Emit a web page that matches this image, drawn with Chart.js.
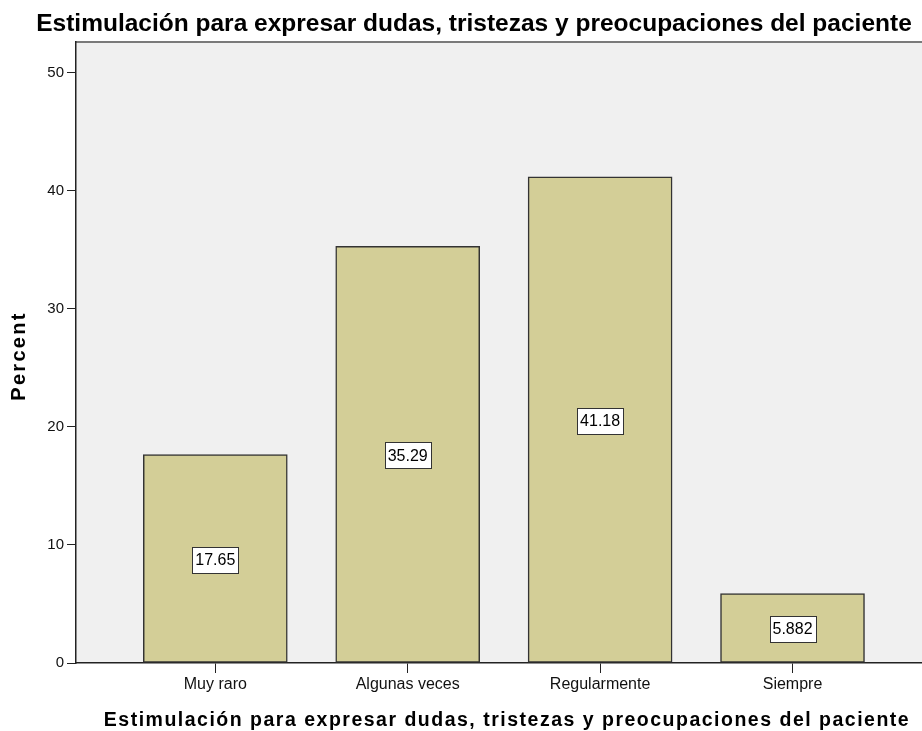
<!DOCTYPE html>
<html>
<head>
<meta charset="utf-8">
<script src="https://cdn.jsdelivr.net/npm/chart.js@4"></script>
<style>
  html, body { margin: 0; padding: 0; background: #fff; }
  #wrap { width: 922px; height: 731px; position: relative; }
</style>
</head>
<body>
<div id="wrap"><canvas id="chart"></canvas></div>
<script>
// --- data ---
const categories = ['Muy raro', 'Algunas veces', 'Regularmente', 'Siempre'];
const percents = [17.65, 35.29, 41.18, 5.882];
const yTicks = [0, 10, 20, 30, 40, 50];
const chartTitle = 'Estimulación para expresar dudas, tristezas y preocupaciones del paciente';
const xTitle = 'Estimulación para expresar dudas, tristezas y preocupaciones del paciente';
const yTitle = 'Percent';

const FONT = '"Liberation Sans", Arial, sans-serif';

// gray plot background + top frame line (SPSS look)
const plotBg = {
    id: 'plotBg',
    beforeDraw(chart) {
        const { ctx, chartArea: a } = chart;
        ctx.save();
        ctx.fillStyle = '#f0f0f0';
        ctx.fillRect(a.left, a.top, a.right - a.left, a.bottom - a.top);
        ctx.strokeStyle = '#7a7a7a';
        ctx.lineWidth = 2;
        ctx.beginPath();
        ctx.moveTo(a.left, a.top);
        ctx.lineTo(a.right, a.top);
        ctx.stroke();
        ctx.restore();
    }
};

// boxed value labels in the middle of each bar
const barLabels = {
    id: 'barLabels',
    afterDatasetsDraw(chart) {
        const { ctx } = chart;
        const meta = chart.getDatasetMeta(0);
        ctx.save();
        ctx.font = '16px ' + FONT;
        ctx.textAlign = 'center';
        ctx.textBaseline = 'middle';
        meta.data.forEach((bar, i) => {
            const txt = String(percents[i]);
            const cy = (bar.y + bar.base) / 2 + 1;
            const w = Math.round(ctx.measureText(txt).width) + 6;
            const h = 26;
            const x0 = Math.round(bar.x - w / 2) + 0.5;
            const y0 = Math.round(cy - h / 2) + 0.5;
            ctx.fillStyle = '#fff';
            ctx.fillRect(x0, y0, w, h);
            ctx.strokeStyle = '#333';
            ctx.lineWidth = 1;
            ctx.strokeRect(x0, y0, w, h);
            ctx.fillStyle = '#000';
            ctx.fillText(txt, bar.x, cy + 1);
        });
        ctx.restore();
    }
};

// titles
const titles = {
    id: 'titles',
    afterDraw(chart) {
        const { ctx } = chart;
        ctx.save();
        ctx.fillStyle = '#000';
        ctx.textBaseline = 'alphabetic';
        ctx.textAlign = 'center';

        ctx.font = 'bold 24.5px ' + FONT;
        ctx.letterSpacing = '0px';
        ctx.fillText(chartTitle, 474, 31);

        ctx.font = 'bold 19.5px ' + FONT;
        ctx.letterSpacing = '1.5px';
        ctx.fillText(xTitle, 507, 726);

        ctx.translate(25, 356);
        ctx.rotate(-Math.PI / 2);
        ctx.font = 'bold 20px ' + FONT;
        ctx.letterSpacing = '2.3px';
        ctx.fillText(yTitle, 0, 0);
        ctx.restore();
    }
};

new Chart(document.getElementById('chart'), {
    type: 'bar',
    data: {
        datasets: [{
            data: percents.map((v, i) => ({ x: i, y: v })),
            backgroundColor: '#d3ce97',
            borderColor: '#333',
            borderWidth: 1.5,
            borderSkipped: false,
            barThickness: 144
        }]
    },
    options: {
        responsive: true,
        maintainAspectRatio: false,
        animation: false,
        layout: { padding: { top: 42, left: 0, right: 0, bottom: 0 } },
        plugins: {
            legend: { display: false },
            tooltip: { enabled: false },
            title: { display: false }
        },
        scales: {
            x: {
                type: 'linear',
                offset: false,
                min: -0.724,
                max: 3.673,
                afterBuildTicks: (s) => { s.ticks = categories.map((c, i) => ({ value: i })); },
                afterFit: (s) => { s.height = 68; },
                ticks: {
                    callback: (v) => categories[v] ?? '',
                    color: '#111',
                    font: { family: FONT, size: 16 },
                    padding: 2,
                    maxRotation: 0,
                    autoSkip: false
                },
                grid: { offset: false, drawOnChartArea: false, tickLength: 10, color: '#222' },
                border: { color: '#222', width: 1.5 }
            },
            y: {
                min: 0,
                max: 52.6,
                afterBuildTicks: (s) => { s.ticks = yTicks.map(v => ({ value: v })); },
                afterFit: (s) => { s.width = 76; },
                ticks: {
                    color: '#111',
                    font: { family: FONT, size: 15 },
                    padding: 3
                },
                grid: { drawOnChartArea: false, tickLength: 9, color: '#222' },
                border: { color: '#222', width: 1.5 }
            }
        }
    },
    plugins: [plotBg, barLabels, titles]
});
</script>
</body>
</html>
